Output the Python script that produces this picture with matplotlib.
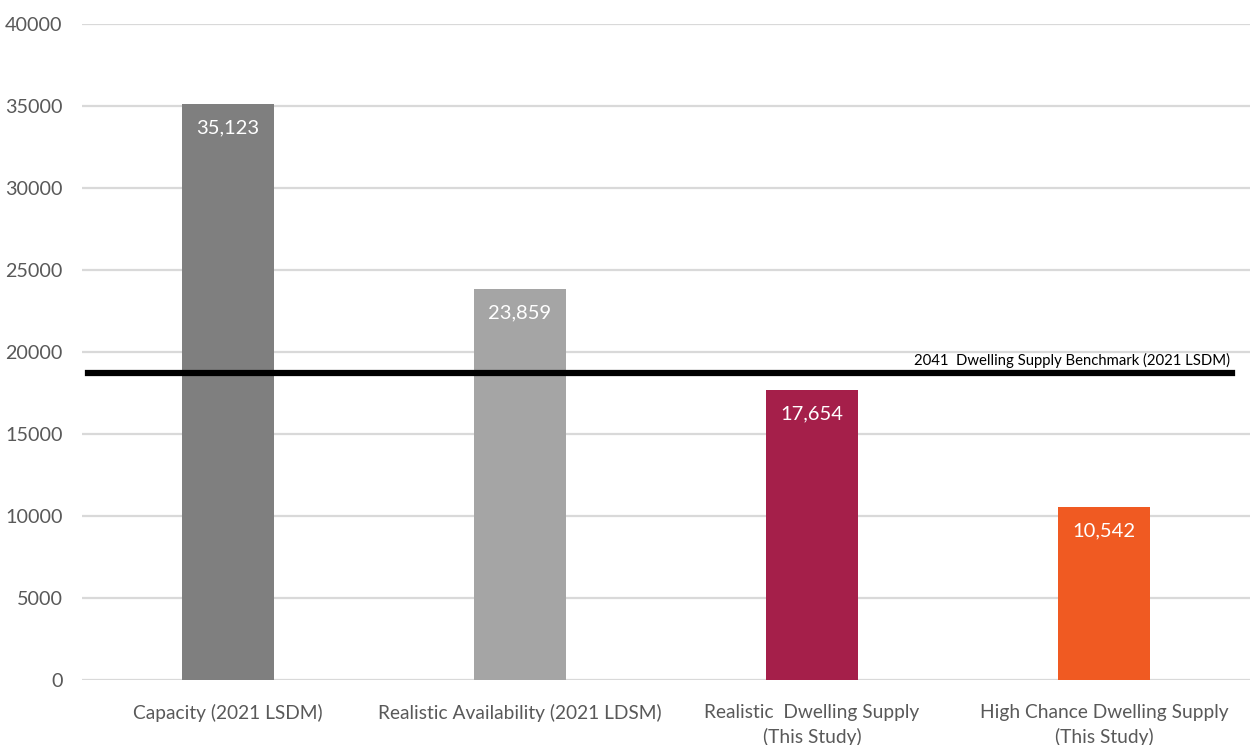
import matplotlib
matplotlib.use("Agg")
import matplotlib.pyplot as plt

categories = ["Capacity (2021 LSDM)",
              "Realistic Availability (2021 LDSM)",
              "Realistic  Dwelling Supply\n(This Study)",
              "High Chance Dwelling Supply\n(This Study)"]
values = [35123, 23859, 17654, 10542]
colors = ["#7F7F7F", "#A5A5A5", "#A51F4A", "#F05A22"]
benchmark = 18750
benchmark_label = "2041  Dwelling Supply Benchmark (2021 LSDM)"
yticks = [0, 5000, 10000, 15000, 20000, 25000, 30000, 35000, 40000]

plt.rcParams['font.family'] = ['Lato', 'DejaVu Sans']

fig = plt.figure(figsize=(12.5, 7.45), dpi=100)
ax = fig.add_axes([82/1250, 65/745, 1168/1250, 656/745])

x = list(range(len(categories)))
ax.bar(x, values, width=0.312, color=colors, zorder=3)
ax.set_xlim(-0.5, 3.5)
ax.set_ylim(0, 40000)
ax.set_yticks(yticks)
ax.set_yticklabels([str(v) for v in yticks], fontsize=14.2)
ax.set_xticks(x)
ax.set_xticklabels(categories, linespacing=1.5, fontsize=13.8)

ax.grid(axis='y', color='#D9D9D9', linewidth=1.6, zorder=0)
ax.set_axisbelow(True)
for s in ax.spines.values():
    s.set_visible(False)
ax.tick_params(axis='both', length=0, labelcolor='#595959')
ax.tick_params(axis='y', pad=14)
ax.tick_params(axis='x', pad=17)

for xi, v in zip(x, values):
    ax.annotate(f"{v:,}", xy=(xi, v), xytext=(0, -11), textcoords='offset points',
                ha='center', va='top', color='white', fontsize=14.5, zorder=5)

ax.axhline(benchmark, xmin=0.005, xmax=0.985, color='black', linewidth=4.5, zorder=4)
ax.annotate(benchmark_label, xy=(0.9825, benchmark), xycoords=('axes fraction', 'data'),
            xytext=(0, 3.5), textcoords='offset points', ha='right', va='bottom',
            fontsize=10.75, color='black', zorder=5)

fig.savefig("out.png", dpi=100)
